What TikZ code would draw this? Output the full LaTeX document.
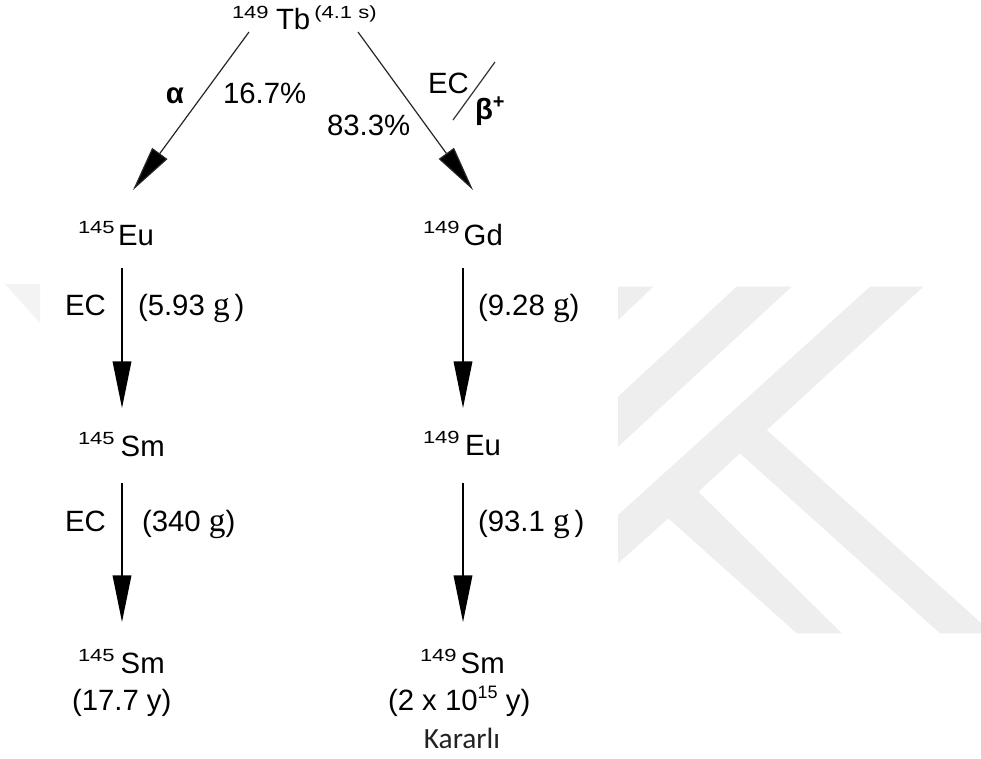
\documentclass[tikz,border=0pt]{standalone}
\usepackage{fontspec}
\setmainfont{Liberation Sans}
\newfontfamily\serifg{Liberation Serif}
\newfontfamily\calib{Carlito}
\usetikzlibrary{arrows.meta}
\definecolor{wm}{RGB}{238,238,238}
\definecolor{wmlight}{RGB}{243,243,243}
\definecolor{txtgray}{RGB}{34,34,34}
\newcommand\supn[1]{\raisebox{9pt}{\scalebox{1}[0.8]{\fontsize{16.5}{18}\selectfont #1}}}
\newcommand\suptb[1]{\raisebox{8pt}{\scalebox{1}[0.8]{\fontsize{16.5}{18}\selectfont #1}}}
\newcommand\supsmall[1]{\raisebox{9pt}{\fontsize{13.5}{15}\selectfont #1}}
\newcommand\gunit{{\serifg\fontsize{25}{26}\selectfont g}}
\begin{document}
\begin{tikzpicture}[x=0.75pt,y=-0.75pt,
  every node/.style={inner sep=0pt,outer sep=0pt,font=\fontsize{22}{26}\selectfont},
  arr/.style={line width=1pt,-{Triangle[length=35pt,width=14pt]}},
  darr/.style={line width=0.9pt,draw=black!85,-{Triangle[length=34pt,width=14pt,fill=black]}},
  slash/.style={line width=0.9pt,draw=black!80},
  lbl/.style={anchor=base west}]
\useasboundingbox (0,0) rectangle (981,758);
\fill[white] (0,0) rectangle (981,758);
% watermark
\fill[wmlight] (5,284) -- (40,284) -- (40,323) -- cycle;
\fill[wm] (618,286.7) -- (653.3,286.7) -- (618,320) -- cycle;
\fill[wm] (736.7,286.7) -- (791.7,286.7) -- (618,446.7) -- (618,396.7) -- cycle;
\fill[wm] (870,286.7) -- (923.3,286.7) -- (766.7,430) -- (981,623) -- (981,633.3) -- (940,633.3)
  -- (740,453.3) -- (698.3,491.7) -- (841.7,633.3) -- (796.7,633.3) -- (668.3,518.3)
  -- (618,563.3) -- (618,515) -- cycle;

% nuclides
\node[lbl] (tb) at (232,29) {\suptb{149}\hspace{5.5pt}Tb\hspace{3pt}\suptb{(4.1 s)}};
\node[lbl] (eu145) at (78,245) {\supn{145}\hspace{2.5pt}Eu};
\node[lbl] (gd149) at (423,245) {\supn{149}\hspace{3pt}Gd};
\node[lbl] (sm145a) at (78,456) {\supn{145}\hspace{4.5pt}Sm};
\node[lbl] (eu149) at (423,455) {\supn{149}\hspace{4pt}Eu};
\node[lbl] (sm145b) at (78,673) {\supn{145}\hspace{4.5pt}Sm};
\node[lbl] (t145) at (72,710) {(17.7 y)};
\node[lbl] (sm149) at (420,673) {\supn{149}\hspace{3pt}Sm};
\node[lbl] (t149) at (388,710) {(2 x 10\supsmall{15} y)};
\node[anchor=base,text=txtgray] (kar) at (462,748) {\calib Kararlı};

% branch labels
\node (alpha) at (175,96) {\bfseries α};
\node[lbl] (p167) at (223,103) {16.7\%};
\node[lbl] (p833) at (327,135) {83.3\%};
\node[lbl] (ectop) at (428,93) {EC};
\node[lbl] (beta) at (475,119) {\bfseries β\raisebox{8pt}{\fontsize{15}{16}\selectfont\bfseries +}};
\coordinate (s1) at (495,62);
\coordinate (s2) at (453,120);
\draw[slash] (s1) -- (s2);

% decay labels
\node[lbl] (ec1) at (65,315) {EC};
\node[lbl] (h1) at (138,315) {(5.93 \gunit\,)};
\node[lbl] (h2) at (478,315) {(9.28 \gunit)};
\node[lbl] (ec2) at (65,531) {EC};
\node[lbl] (h3) at (142,531) {(340 \gunit)};
\node[lbl] (h4) at (478,531) {(93.1 \gunit\,)};

% arrow end points
\coordinate (aLs) at (249,32);
\coordinate (aLe) at (133,190);
\coordinate (aRs) at (358,32);
\coordinate (aRe) at (473,190);
\coordinate (v1s) at (122,268);
\coordinate (v1e) at (122,408);
\coordinate (v2s) at (122,483);
\coordinate (v2e) at (122,622);
\coordinate (v3s) at (463,268);
\coordinate (v3e) at (463,408);
\coordinate (v4s) at (463,483);
\coordinate (v4e) at (463,622);

\draw[darr] (aLs) -- (aLe);
\draw[darr] (aRs) -- (aRe);
\draw[arr] (v1s) -- (v1e);
\draw[arr] (v2s) -- (v2e);
\draw[arr] (v3s) -- (v3e);
\draw[arr] (v4s) -- (v4e);
\end{tikzpicture}
\end{document}
